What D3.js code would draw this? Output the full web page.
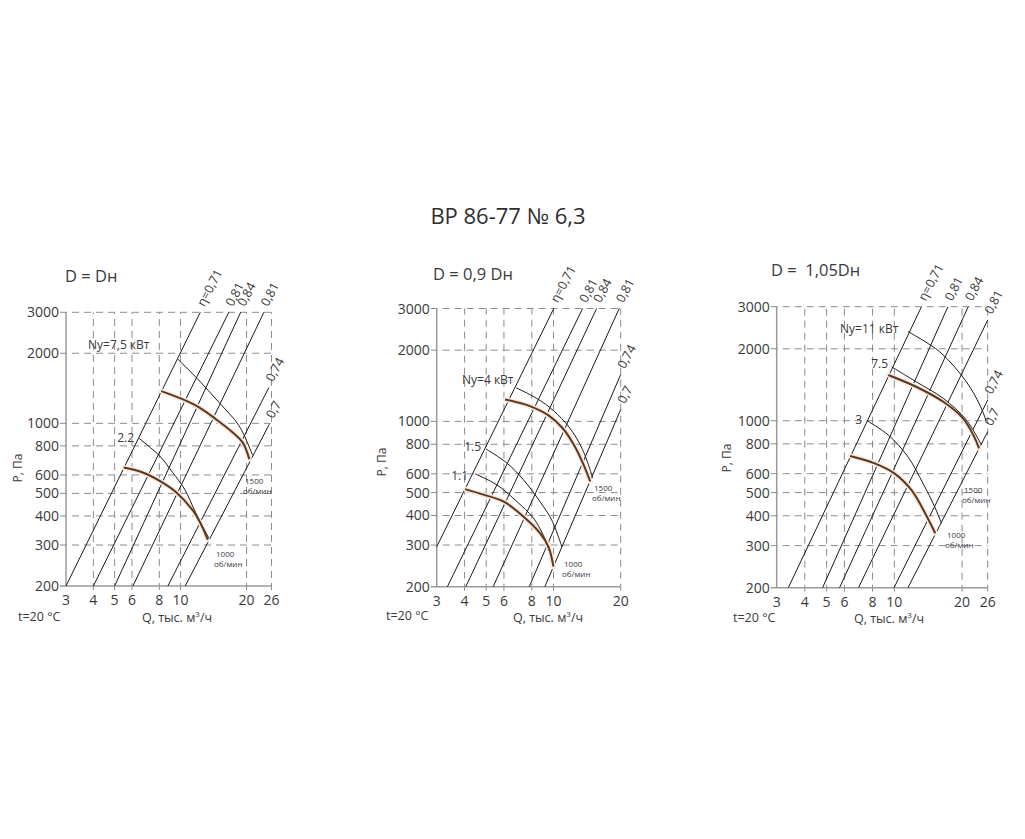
<!DOCTYPE html>
<html><head><meta charset="utf-8">
<script src="https://cdn.jsdelivr.net/npm/d3@7"></script>
<style>
html,body{margin:0;padding:0;background:#fff;}
svg{display:block;font-family:"Open Sans","Noto Sans",sans-serif;}
</style></head>
<body><svg id="c" width="1025" height="839"></svg>
<script>
// ---------- DATA ----------
const title = "ВР 86-77 № 6,3";
const panelTitles = ["D = Dн", "D = 0,9 Dн", "D =  1,05Dн"];
const yTicks = [200, 300, 400, 500, 600, 800, 1000, 2000, 3000];
const yGrid = [300, 400, 500, 600, 800, 1000, 2000, 3000];
const xTicks1 = [3, 4, 5, 6, 8, 10, 20, 26];
const xTicks2 = [3, 4, 5, 6, 8, 10, 20];
const xTicks3 = [3, 4, 5, 6, 8, 10, 20, 26];
const effLabels = ["η=0,71", "0,81", "0,84", "0,81", "0,74", "0,7"];

// efficiency (system) lines: [Q start, P start, Q end, P end]
const effLines1 = [[3, 200, 12.3, 3000], [4.0, 200, 16.6, 3000], [5.0, 200, 18.8, 3000], [6.06, 200, 24, 3000], [8.75, 200, 25.3, 1426], [10.5, 200, 25.4, 990]];
const effLines2 = [[3, 295, 10.03, 3000], [3.35, 200, 13.5, 3000], [4.05, 200, 15.6, 3000], [5.37, 200, 19.7, 3000], [7.79, 200, 20, 1577], [9.15, 200, 20, 1122]];
const effLines3 = [[3.38, 200, 13.2, 3000], [4.8, 200, 17.3, 3000], [5.71, 200, 21.3, 3000], [6.93, 200, 26, 2640], [9.97, 200, 26, 1220], [11.5, 200, 26, 900]];

// fan curves (brown) [Q, P]
const fan1000_1 = [[5.5, 646], [6.72, 615], [8.03, 566], [9.57, 505], [11.4, 421], [12.6, 357], [13.3, 316]];
const fan1500_1 = [[8.16, 1376], [10.2, 1270], [12.2, 1169], [14.5, 1042], [17.3, 914], [19.2, 828], [20.6, 702]];
const fan1000_2 = [[4.02, 517], [4.86, 490], [5.99, 458], [7.33, 396], [8.7, 337], [9.5, 295], [10, 243]];
const fan1500_2 = [[6.07, 1238], [7.84, 1160], [9.5, 1060], [11.0, 935], [12.3, 800], [13.6, 660], [14.6, 558]];
const fan1000_3 = [[6.36, 712], [8.18, 663], [10.0, 602], [11.9, 513], [13.7, 410], [15.2, 338]];
const fan1500_3 = [[9.4, 1554], [12.5, 1387], [16.5, 1200], [20.2, 1023], [22.6, 860], [23.8, 766]];

// power curves (black) [Q, P]
const pow2_2_1 = [[6.46, 862], [8.03, 724], [9.2, 615], [10.43, 521], [11.7, 414], [12.9, 345], [13.5, 320]];
const pow7_5_1 = [[9.72, 1886], [12.0, 1546], [15.0, 1228], [18.5, 975], [21.3, 730]];
const pow1_1_2 = [[4.46, 600], [5.56, 540], [6.86, 458], [8.13, 390], [9.0, 330], [9.6, 282]];
const pow1_5_2 = [[4.99, 764], [6.18, 667], [7.33, 567], [8.7, 458], [9.82, 383], [10.9, 295]];
const pow4_2 = [[6.8, 1386], [8.42, 1250], [10.0, 1110], [11.8, 940], [13.5, 760], [15.0, 575]];
const pow3_3 = [[7.59, 998], [9.4, 871], [11.5, 706], [13.4, 547], [15.1, 437], [16.2, 372]];
const pow7_5_3 = [[9.72, 1682], [12.5, 1455], [16.5, 1240], [20.9, 1006], [24.4, 791]];
const pow11_3 = [[11.5, 2360], [15.9, 1943], [20.9, 1455], [24.0, 1162], [25.6, 1000]];

// ---------- LAYOUT ----------
const svg = d3.select("#c");
const textCol = "#3a3a3a";
svg.append("text").attr("x", 508).attr("y", 224).attr("text-anchor", "middle")
  .attr("font-size", 22).attr("fill", "#2e2e2e").text(title);

const panels = [
  { xr: [66, 271.5], xd: [3, 26], yr: [586, 312.3], xt: xTicks1, eff: effLines1,
    fans: [fan1000_1, fan1500_1], pows: [pow2_2_1, pow7_5_1],
    title: panelTitles[0], tpos: [65, 282],
    powLabels: [{t: "Ny=7,5 кВт", x: 88, y: 349, a: "start"}, {t: "2.2", x: 134, y: 442, a: "end"}],
    rpm1500: [243, 484], rpm1000: [214, 557], ylab: [22, 468], xlab: [177, 622], tlab: [18, 621] },
  { xr: [436.7, 620.7], xd: [3, 20], yr: [586.7, 308.5], xt: xTicks2, eff: effLines2,
    fans: [fan1000_2, fan1500_2], pows: [pow1_1_2, pow1_5_2, pow4_2],
    title: panelTitles[1], tpos: [433, 280],
    powLabels: [{t: "Ny=4 кВт", x: 462, y: 384, a: "start"}, {t: "1.5", x: 481, y: 451, a: "end"}, {t: "1.1", x: 468, y: 480, a: "end"}],
    rpm1500: [592, 491], rpm1000: [562, 567], ylab: [386, 462], xlab: [548, 622], tlab: [386, 620] },
  { xr: [776.7, 987.7], xd: [3, 26], yr: [587.7, 306.7], xt: xTicks3, eff: effLines3,
    fans: [fan1000_3, fan1500_3], pows: [pow3_3, pow7_5_3, pow11_3],
    title: panelTitles[2], tpos: [771, 276],
    powLabels: [{t: "Ny=11 кВт", x: 840, y: 333, a: "start"}, {t: "7.5", x: 888, y: 368, a: "end"}, {t: "3", x: 862, y: 424, a: "end"}],
    rpm1500: [962, 493], rpm1000: [945, 538], ylab: [731, 458], xlab: [889, 623], tlab: [733, 622] }
];

panels.forEach(p => {
  const x = d3.scaleLog().domain(p.xd).range(p.xr);
  const y = d3.scaleLog().domain([200, 3000]).range(p.yr);
  const g = svg.append("g");
  const x0 = p.xr[0], x1 = p.xr[1];

  // grid
  g.selectAll(".hg").data(yGrid).join("line")
    .attr("x1", x0 - 6).attr("x2", x1).attr("y1", d => y(d)).attr("y2", d => y(d))
    .attr("stroke", "#8c8c8c").attr("stroke-width", 1).attr("stroke-dasharray", "7,5");
  g.selectAll(".vg").data(p.xt.slice(1)).join("line")
    .attr("x1", d => x(d)).attr("x2", d => x(d)).attr("y1", y(200) + 4).attr("y2", y(3000))
    .attr("stroke", "#8c8c8c").attr("stroke-width", 1).attr("stroke-dasharray", "7,5");
  // axes
  g.append("line").attr("x1", x0).attr("x2", x0).attr("y1", y(200)).attr("y2", y(3000))
    .attr("stroke", "#9a9a9a").attr("stroke-width", 1.5);
  g.append("line").attr("x1", x0 - 6).attr("x2", x1).attr("y1", y(200)).attr("y2", y(200))
    .attr("stroke", "#9a9a9a").attr("stroke-width", 1.5);

  // tick labels
  g.selectAll(".yl").data(yTicks).join("text")
    .attr("x", x0 - 7).attr("y", d => y(d) + 5).attr("text-anchor", "end")
    .attr("font-size", 14).attr("fill", textCol).text(d => d);
  g.selectAll(".xl").data(p.xt).join("text")
    .attr("x", d => x(d)).attr("y", y(200) + 19).attr("text-anchor", "middle")
    .attr("font-size", 14).attr("fill", textCol).text(d => d);

  // axis titles
  g.append("text").attr("transform", `translate(${p.ylab[0]},${p.ylab[1]}) rotate(-90)`)
    .attr("text-anchor", "middle").attr("font-size", 12).attr("fill", textCol).text("P, Па");
  const xt = g.append("text").attr("x", p.xlab[0]).attr("y", p.xlab[1]).attr("text-anchor", "middle")
    .attr("font-size", 12.5).attr("fill", textCol);
  xt.append("tspan").text("Q, тыс. м");
  xt.append("tspan").attr("font-size", 8).attr("dy", -5).text("3");
  xt.append("tspan").attr("dy", 5).text("/ч");
  g.append("text").attr("x", p.tlab[0]).attr("y", p.tlab[1]).attr("font-size", 12.5)
    .attr("fill", textCol).text("t=20 °C");
  g.append("text").attr("x", p.tpos[0]).attr("y", p.tpos[1]).attr("font-size", 16.5)
    .attr("fill", textCol).style("white-space", "pre").text(p.title);

  // efficiency lines
  g.selectAll(".ef").data(p.eff).join("line")
    .attr("x1", d => x(d[0])).attr("y1", d => y(d[1])).attr("x2", d => x(d[2])).attr("y2", d => y(d[3]))
    .attr("stroke", "#1a1a1a").attr("stroke-width", 1);
  g.selectAll(".efl").data(p.eff).join("text")
    .attr("transform", d => `translate(${x(d[2]) + 4},${y(d[3]) - 5}) rotate(-62)`)
    .attr("font-size", 12.5).attr("fill", textCol).text((d, i) => effLabels[i]);

  const line = d3.line().x(d => x(d[0])).y(d => y(d[1])).curve(d3.curveCatmullRom.alpha(0.5));
  // fan curves with light glow
  p.fans.forEach(f => {
    g.append("path").attr("d", line(f)).attr("fill", "none").attr("stroke", "#f9e9dd")
      .attr("stroke-width", 5).attr("stroke-linecap", "round");
  });
  p.pows.forEach(f => {
    g.append("path").attr("d", line(f)).attr("fill", "none").attr("stroke", "#1a1a1a").attr("stroke-width", 1);
  });
  p.fans.forEach(f => {
    g.append("path").attr("d", line(f)).attr("fill", "none").attr("stroke", "#5a3820").attr("stroke-width", 2);
  });

  // labels
  p.powLabels.forEach(l => {
    g.append("text").attr("x", l.x).attr("y", l.y).attr("text-anchor", l.a)
      .attr("font-size", 12).attr("fill", textCol).text(l.t);
  });
  [[p.rpm1500, "1500"], [p.rpm1000, "1000"]].forEach(([pos, t]) => {
    g.append("text").attr("x", pos[0] + 2).attr("y", pos[1]).attr("font-size", 8).attr("fill", textCol).text(t);
    g.append("text").attr("x", pos[0]).attr("y", pos[1] + 10).attr("font-size", 8).attr("fill", textCol).text("об/мин");
  });
});
</script></body></html>
